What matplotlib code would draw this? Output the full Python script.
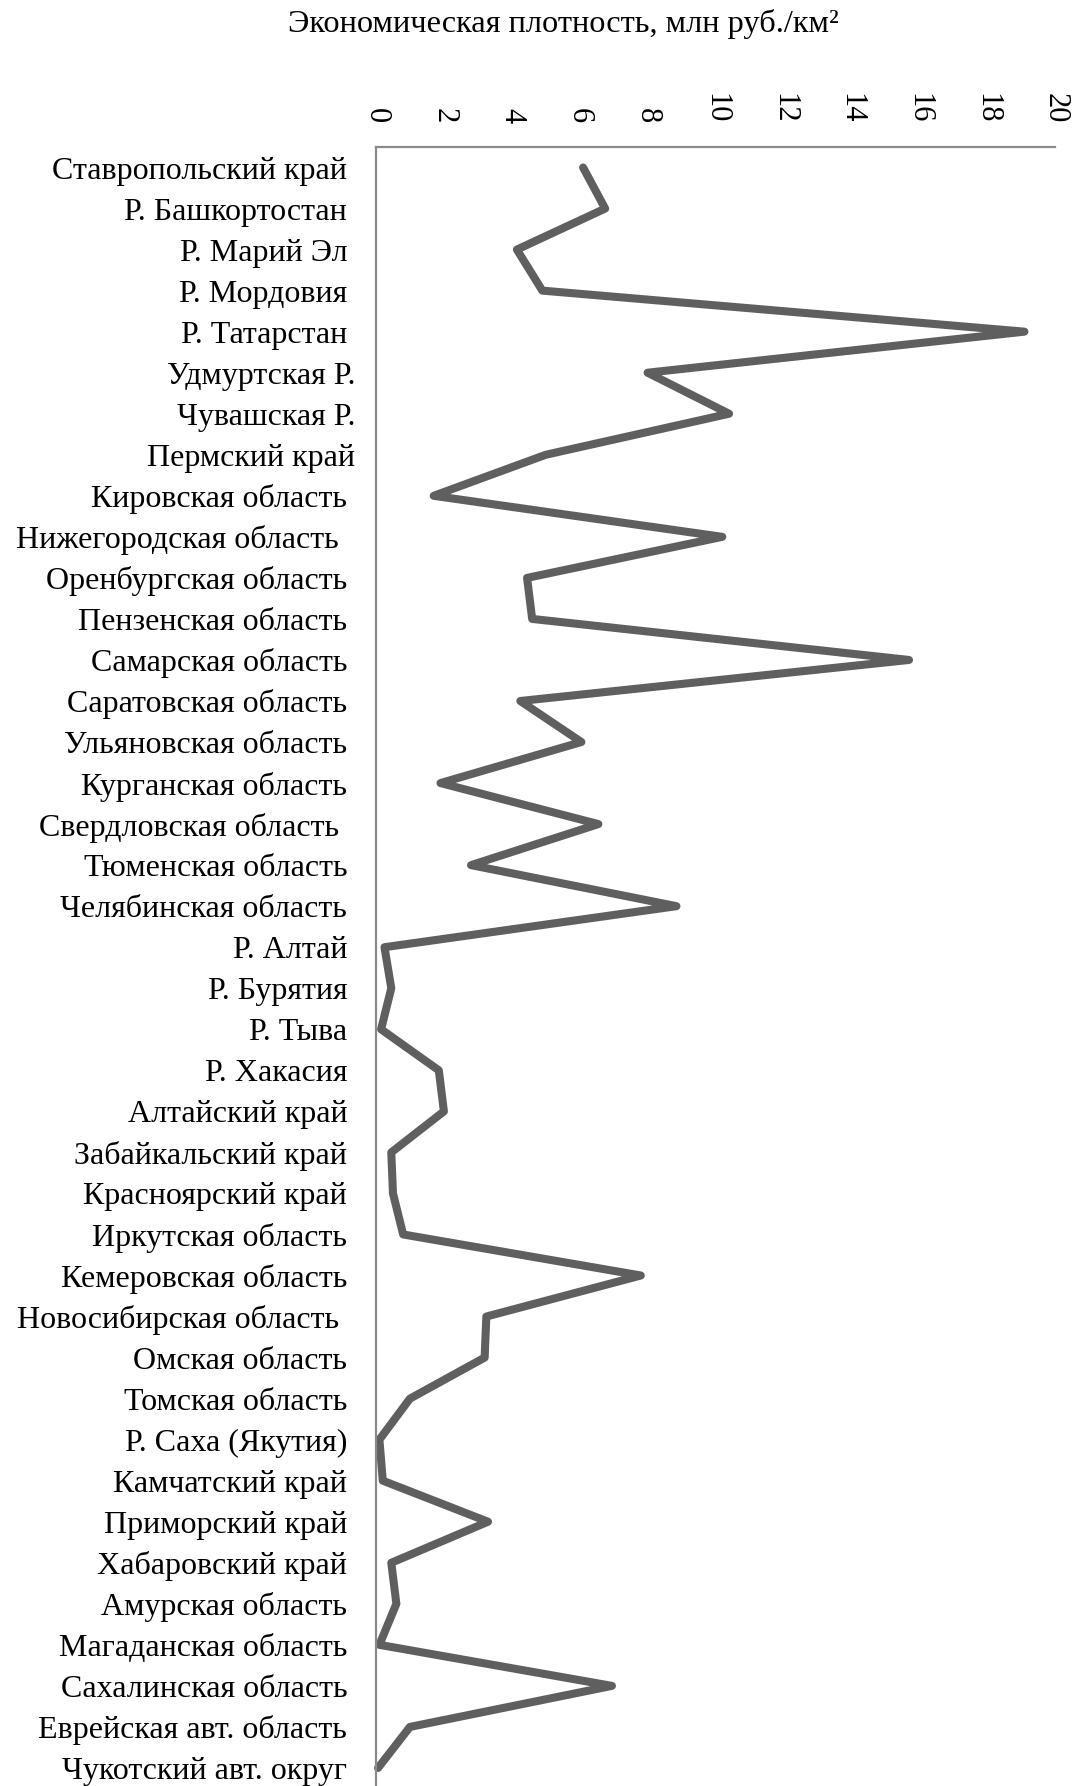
#!/usr/bin/env python3
"""Economic density by region, drawn as a vertical line profile."""

import matplotlib
matplotlib.use("Agg")
import matplotlib.pyplot as plt

plt.rcParams["font.family"] = ["Liberation Serif", "DejaVu Serif"]

# trailing spaces mimic the ragged right edge of the original labels
regions = [
    "Ставропольский край ", "Р. Башкортостан ", "Р. Марий Эл ",
    "Р. Мордовия ", "Р. Татарстан ", "Удмуртская Р.", "Чувашская Р.",
    "Пермский край", "Кировская область ", "Нижегородская область  ",
    "Оренбургская область ", "Пензенская область ", "Самарская область ",
    "Саратовская область ", "Ульяновская область ", "Курганская область ",
    "Свердловская область  ", "Тюменская область ", "Челябинская область ",
    "Р. Алтай ", "Р. Бурятия ", "Р. Тыва ", "Р. Хакасия ",
    "Алтайский край ", "Забайкальский край ", "Красноярский край ",
    "Иркутская область ", "Кемеровская область ", "Новосибирская область  ",
    "Омская область ", "Томская область ", "Р. Саха (Якутия) ",
    "Камчатский край ", "Приморский край ", "Хабаровский край ",
    "Амурская область ", "Магаданская область ", "Сахалинская область ",
    "Еврейская авт. область ", "Чукотский авт. округ ",
]

density = [
    6.1, 6.75, 4.15, 4.9, 19.1, 8.0, 10.4, 5.0, 1.7, 10.2,
    4.45, 4.6, 15.7, 4.25, 6.05, 1.9, 6.55, 2.8, 8.85, 0.25,
    0.45, 0.15, 1.85, 2.0, 0.45, 0.5, 0.8, 7.8, 3.25, 3.2,
    1.0, 0.1, 0.2, 3.3, 0.45, 0.6, 0.1, 6.95, 1.0, 0.06,
]

x_ticks = list(range(0, 21, 2))

fig = plt.figure(figsize=(10.72, 17.86), dpi=100)
ax = fig.add_axes([376 / 1072, 0.0, 679 / 1072, 1 - 147 / 1786])

pos = list(range(len(regions)))
ax.plot(density, pos, color="#5f5f5f", linewidth=5.8,
        solid_joinstyle="round", solid_capstyle="round", clip_on=False)

ax.set_xlim(0, 20)
ax.set_ylim(len(regions) - 1 + 0.44, -0.5)

ax.xaxis.tick_top()
ax.set_xticks(x_ticks)
ax.set_xticklabels([str(t) for t in x_ticks], rotation=-90, fontsize=22)
ax.set_yticks(pos)
ax.set_yticklabels(regions, fontsize=23)
ax.tick_params(axis="x", length=0, pad=17)
ax.tick_params(axis="y", length=0, pad=15)
for lbl in ax.get_xticklabels():
    lbl.set_va("bottom")

for side in ("right", "bottom"):
    ax.spines[side].set_visible(False)
for side in ("left", "top"):
    ax.spines[side].set_color("#8a8a8a")
    ax.spines[side].set_linewidth(1.6)

fig.text(563 / 1072, 1 - 24 / 1786, "Экономическая плотность, млн руб./км²",
         ha="center", va="center", fontsize=23.3)

fig.savefig("out.png", dpi=100)
